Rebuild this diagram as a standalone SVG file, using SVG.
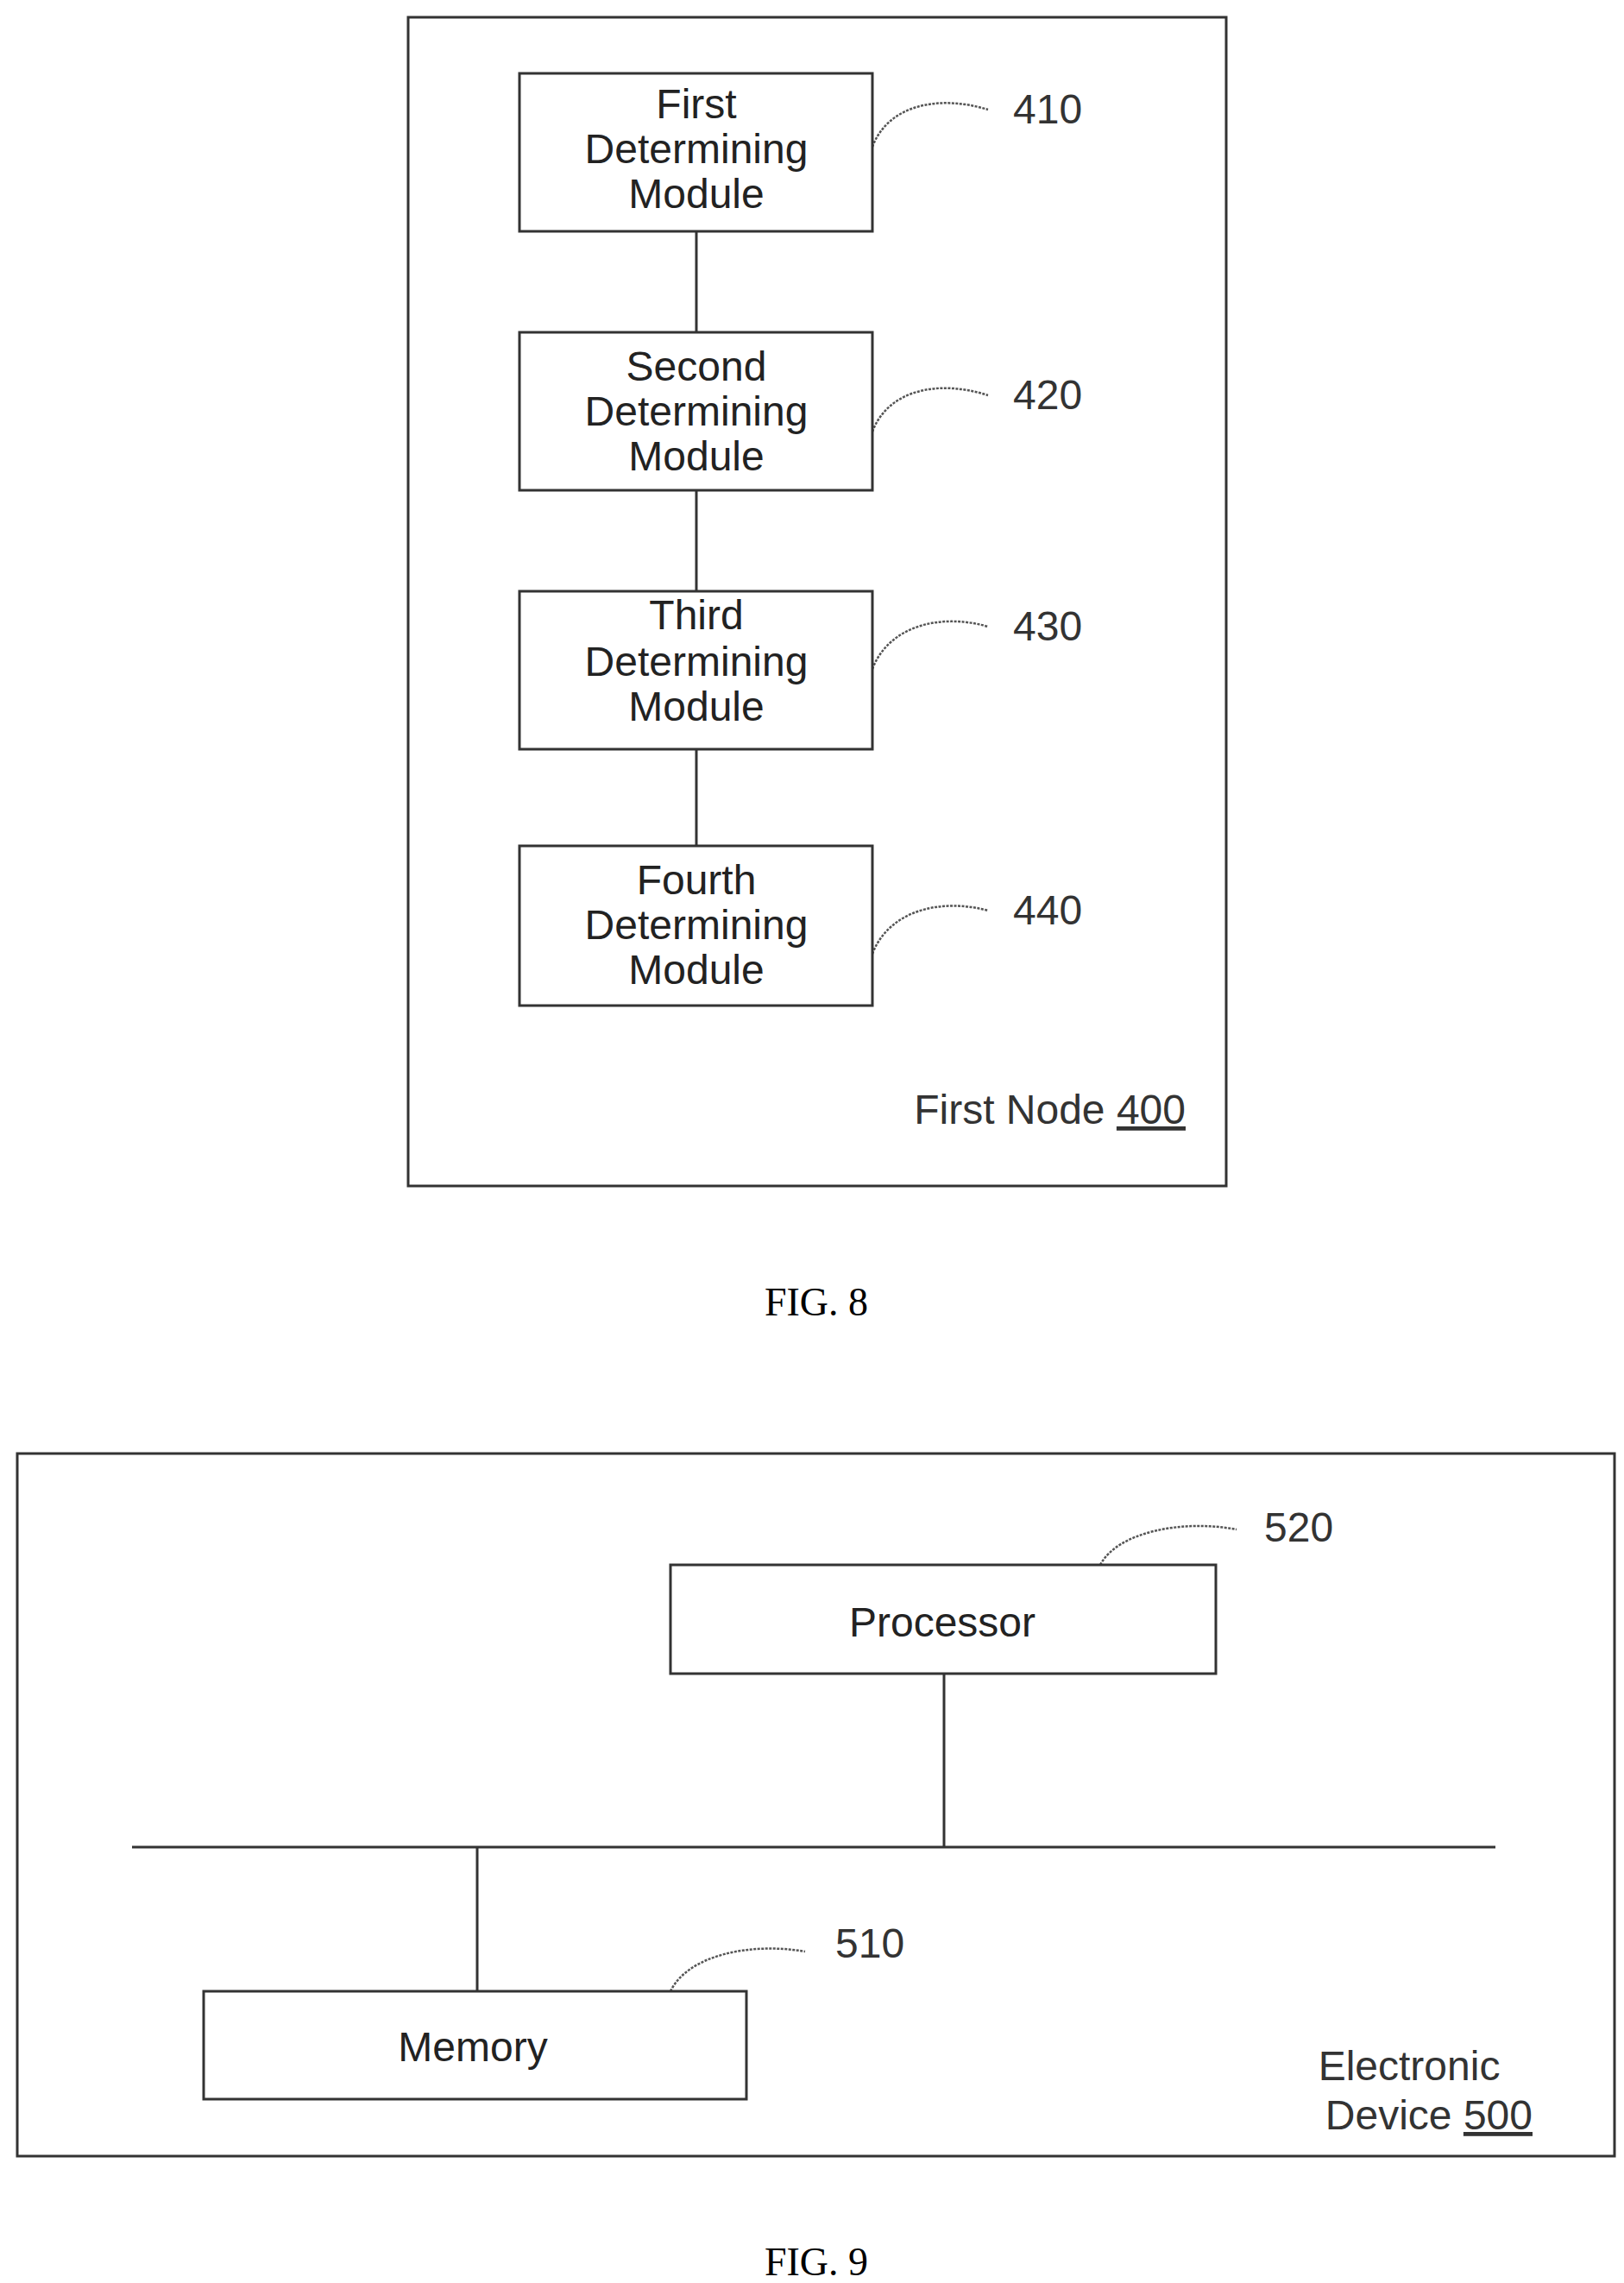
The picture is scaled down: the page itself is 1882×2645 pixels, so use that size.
<svg xmlns="http://www.w3.org/2000/svg" width="1882" height="2645" viewBox="0 0 1882 2645">
<style>
.b{fill:#fff;stroke:#333;stroke-width:3}
.o{fill:none;stroke:#333;stroke-width:3}
.l{fill:none;stroke:#333;stroke-width:3}
.s{fill:none;stroke:#555;stroke-width:2.5;stroke-dasharray:3 1.5}
.t{font-family:"Liberation Sans",Arial,sans-serif;font-size:48px;fill:#222;text-anchor:middle}
.n{font-family:"Liberation Sans",Arial,sans-serif;font-size:48px;fill:#333}
.f{font-family:"Liberation Serif","Times New Roman",serif;font-size:46px;fill:#000;text-anchor:middle}
</style>
<rect width="1882" height="2645" fill="#fff"/>
<g id="node400"><rect class="o" x="473" y="20" width="948" height="1354"/>
<text class="n" x="1374" y="1302" text-anchor="end" font-size="51">First Node <tspan text-decoration="underline">400</tspan></text></g>
<g id="device500"><rect class="o" x="20" y="1684" width="1851" height="814"/>
<text class="n" x="1633" y="2410" text-anchor="middle" font-size="62">Electronic</text>
<text class="n" x="1776" y="2467" text-anchor="end" font-size="62">Device <tspan text-decoration="underline">500</tspan></text></g>
<g id="connectors">
<line class="l" x1="807" y1="268" x2="807" y2="385"/>
<line class="l" x1="807" y1="568" x2="807" y2="685"/>
<line class="l" x1="807" y1="868" x2="807" y2="980"/>
<line class="l" x1="1094" y1="1939" x2="1094" y2="2140"/>
<line class="l" x1="153" y1="2140" x2="1733" y2="2140"/>
<line class="l" x1="553" y1="2140" x2="553" y2="2307"/>
<path class="s" d="M1011 170 C1030 120 1090 110 1145 127"/>
<path class="s" d="M1011 500 C1030 450 1090 440 1145 458"/>
<path class="s" d="M1011 775 C1030 725 1090 710 1145 726"/>
<path class="s" d="M1011 1105 C1030 1055 1090 1040 1145 1055"/>
<path class="s" d="M1275 1813 C1295 1775 1370 1760 1433 1772"/>
<path class="s" d="M777 2307 C797 2265 870 2250 933 2261"/>
</g>
<g id="m410"><rect class="b" x="602" y="85" width="409" height="183"/><text class="t" x="807" y="137">First</text><text class="t" x="807" y="189">Determining</text><text class="t" x="807" y="241">Module</text><text class="n" x="1174" y="143">410</text></g>
<g id="m420"><rect class="b" x="602" y="385" width="409" height="183"/><text class="t" x="807" y="441">Second</text><text class="t" x="807" y="493">Determining</text><text class="t" x="807" y="545">Module</text><text class="n" x="1174" y="474">420</text></g>
<g id="m430"><rect class="b" x="602" y="685" width="409" height="183"/><text class="t" x="807" y="729">Third</text><text class="t" x="807" y="783">Determining</text><text class="t" x="807" y="835">Module</text><text class="n" x="1174" y="742">430</text></g>
<g id="m440"><rect class="b" x="602" y="980" width="409" height="185"/><text class="t" x="807" y="1036">Fourth</text><text class="t" x="807" y="1088">Determining</text><text class="t" x="807" y="1140">Module</text><text class="n" x="1174" y="1071">440</text></g>
<text class="f" x="946" y="1524">FIG. 8</text>
<g id="processor"><rect class="b" x="777" y="1813" width="632" height="126"/><text class="t" x="1092" y="1896" font-size="61">Processor</text><text class="n" x="1465" y="1786">520</text></g>
<g id="memory"><rect class="b" x="236" y="2307" width="629" height="125"/><text class="t" x="548" y="2388" font-size="61">Memory</text><text class="n" x="968" y="2268">510</text></g>
<text class="f" x="946" y="2636">FIG. 9</text>
</svg>
